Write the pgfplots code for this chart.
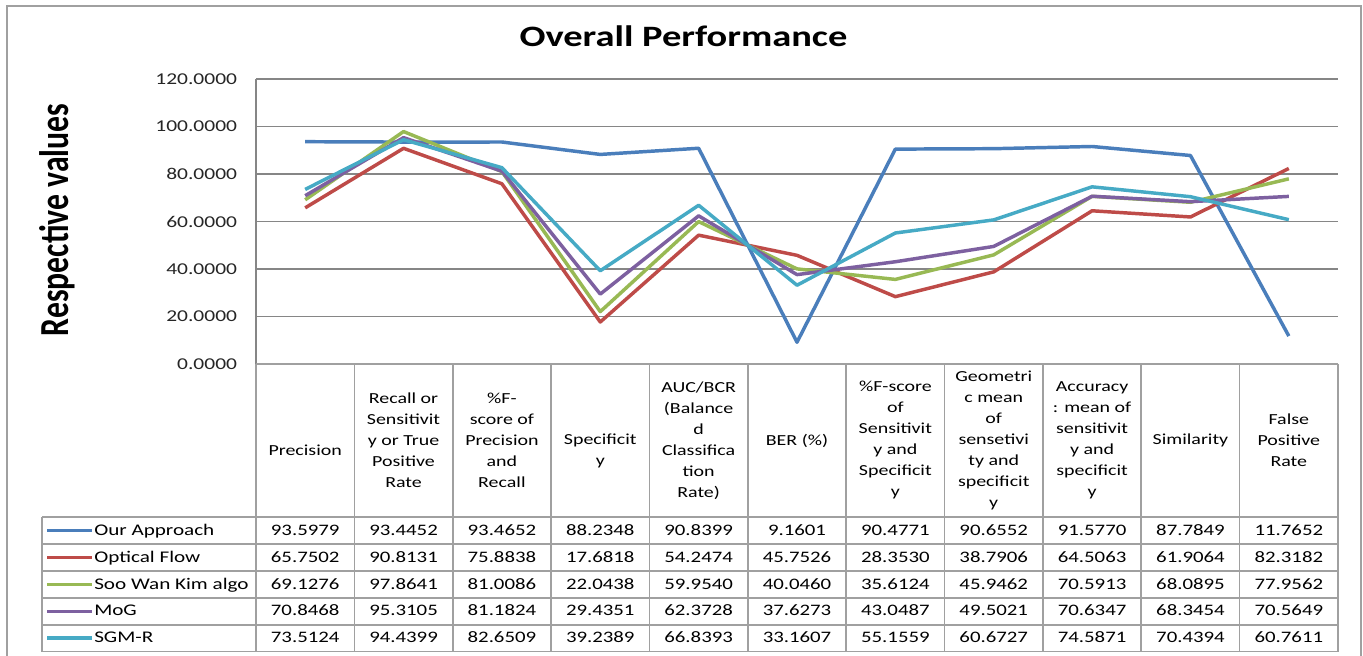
\documentclass[border=0pt]{standalone}
\usepackage{graphicx}
\usepackage{pgfplots}
\pgfplotsset{compat=1.18}
\usepackage{fontspec}
\setmainfont{Carlito}[FakeStretch=1.3]
\newfontfamily\ylabfont{Carlito}
\definecolor{cA}{HTML}{4A7EBB}
\definecolor{cB}{HTML}{BE4B48}
\definecolor{cC}{HTML}{98B954}
\definecolor{cD}{HTML}{7D60A0}
\definecolor{cE}{HTML}{46AAC5}
\definecolor{gridc}{HTML}{868686}
\definecolor{tabc}{HTML}{A0A0A0}
\begin{document}
\begin{tikzpicture}
\path[use as bounding box] (0,0) rectangle (1022.25pt,492pt);
\fill[white] (0,0) rectangle (1022.25pt,492pt);
\begin{axis}[
  at={(192pt,219pt)}, anchor=south west,
  width=811.5pt, height=213.75pt, scale only axis,
  xmin=-0.5, xmax=10.5, ymin=0, ymax=120,
  ytick={0,20,...,120}, xtick=\empty,
  axis x line=none, axis y line=left,
  axis line style={draw=gridc, line width=0.9pt, -},
  ymajorgrids, grid style={draw=gridc, line width=0.9pt},
  major tick length=0pt,
  yticklabel style={font=\fontsize{12.4}{14}\selectfont, inner sep=0pt, xshift=-14pt, text=black!85,
    /pgf/number format/.cd, fixed, fixed zerofill, precision=4, assume math mode=true},
]
\addplot[cA, line width=2.6pt, line join=round] coordinates {(0,93.5979) (1,93.4452) (2,93.4652) (3,88.2348) (4,90.8399) (5,9.1601) (6,90.4771) (7,90.6552) (8,91.5770) (9,87.7849) (10,11.7652)};
\addplot[cB, line width=2.6pt, line join=round] coordinates {(0,65.7502) (1,90.8131) (2,75.8838) (3,17.6818) (4,54.2474) (5,45.7526) (6,28.3530) (7,38.7906) (8,64.5063) (9,61.9064) (10,82.3182)};
\addplot[cC, line width=2.6pt, line join=round] coordinates {(0,69.1276) (1,97.8641) (2,81.0086) (3,22.0438) (4,59.9540) (5,40.0460) (6,35.6124) (7,45.9462) (8,70.5913) (9,68.0895) (10,77.9562)};
\addplot[cD, line width=2.6pt, line join=round] coordinates {(0,70.8468) (1,95.3105) (2,81.1824) (3,29.4351) (4,62.3728) (5,37.6273) (6,43.0487) (7,49.5021) (8,70.6347) (9,68.3454) (10,70.5649)};
\addplot[cE, line width=2.6pt, line join=round] coordinates {(0,73.5124) (1,94.4399) (2,82.6509) (3,39.2389) (4,66.8393) (5,33.1607) (6,55.1559) (7,60.6727) (8,74.5871) (9,70.4394) (10,60.7611)};
\end{axis}
\begin{scope}[x=0.75pt, y=-0.75pt, yshift=492pt]
  % outer border
  \draw[tabc, line width=1.2pt] (7,6) rectangle (1361,660);
  % title
  \node[font=\fontsize{22.2}{26}\selectfont\bfseries, anchor=base] at (683.5,47) {Overall Performance};
  % y label
  \node[rotate=90, font=\ylabfont\bfseries\fontsize{23.8}{28}\selectfont] at (57,220) {\scalebox{1}[1.3]{Respective values}};
  % table grid
  \draw[tabc, line width=1.2pt] (256,364) -- (1338,364);
  \foreach \r in {0,...,5} \draw[tabc, line width=1.2pt] (42,{517.3+26.88*\r}) -- (1338,{517.3+26.88*\r});
  \foreach \c in {0,...,11} \draw[tabc, line width=1.2pt] ({256+98.364*\c},364) -- ({256+98.364*\c},651.7);
  \draw[tabc, line width=1.2pt] (42,517.3) -- (42,651.7);
  % header
  \foreach \t/\dy [count=\i from 0] in {
    {Precision}/10,
    {Recall or\\Sensitivit\\y or True\\Positive\\Rate}/0,
    {\%F-\\score of\\Precision\\and\\Recall}/0,
    {Specificit\\y}/10,
    {AUC/BCR\\(Balance\\d\\Classifica\\tion\\Rate)}/0,
    {BER (\%)}/0,
    {\%F-score\\of\\Sensitivit\\y and\\Specificit\\y}/0,
    {Geometri\\c mean\\of\\sensetivi\\ty and\\specificit\\y}/0,
    {Accuracy\\: mean of\\sensitivit\\y and\\specificit\\y}/0,
    {Similarity}/0,
    {False\\Positive\\Rate}/0}
    \node[align=center, font=\fontsize{11.5}{15.75}\selectfont, inner sep=0pt] at ({256+98.364*(\i+0.5)},{440.5+\dy}) {\t};
  % legend column
  \foreach \nm/\cl [count=\r from 0] in {Our Approach/cA, Optical Flow/cB, Soo Wan Kim algo/cC, MoG/cD, SGM-R/cE} {
    \draw[\cl, line width=2.6pt] (47,{530.7+26.88*\r}) -- (92,{530.7+26.88*\r});
    \node[anchor=west, inner sep=0pt, text height=1.5ex, text depth=.3ex, font=\fontsize{12.2}{14}\selectfont] at (94,{531.5+26.88*\r}) {\nm};
  }
  % values
  \foreach \row [count=\r from 0] in {
    {93.5979,93.4452,93.4652,88.2348,90.8399,9.1601,90.4771,90.6552,91.5770,87.7849,11.7652},
    {65.7502,90.8131,75.8838,17.6818,54.2474,45.7526,28.3530,38.7906,64.5063,61.9064,82.3182},
    {69.1276,97.8641,81.0086,22.0438,59.9540,40.0460,35.6124,45.9462,70.5913,68.0895,77.9562},
    {70.8468,95.3105,81.1824,29.4351,62.3728,37.6273,43.0487,49.5021,70.6347,68.3454,70.5649},
    {73.5124,94.4399,82.6509,39.2389,66.8393,33.1607,55.1559,60.6727,74.5871,70.4394,60.7611}} {
    \foreach \v [count=\i from 0] in \row
      \node[inner sep=0pt, text height=1.5ex, text depth=.3ex, font=\fontsize{12}{14}\selectfont] at ({256+98.364*(\i+0.5)},{531.5+26.88*\r}) {\v};
  }
\end{scope}
\end{tikzpicture}
\end{document}
